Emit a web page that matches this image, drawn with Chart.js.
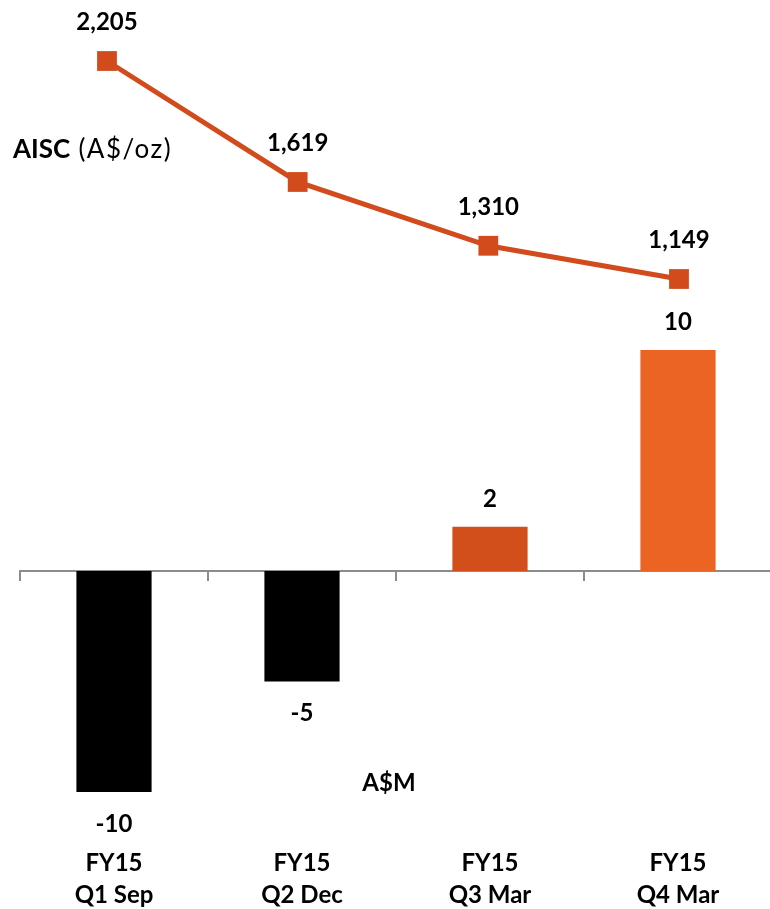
<!DOCTYPE html>
<html>
<head>
<meta charset="utf-8">
<script src="https://cdn.jsdelivr.net/npm/chart.js@4/dist/chart.umd.min.js"></script>
<style>
html,body{margin:0;padding:0;background:#fff;overflow:hidden;width:770px;height:909px;}
#wrap{position:relative;width:772px;height:909px;}
</style>
</head>
<body>
<div id="wrap"><canvas id="c" width="772" height="909"></canvas></div>
<script>
// ---- data ----
const periods = ['FY15', 'FY15', 'FY15', 'FY15'];
const quarters = ['Q1 Sep', 'Q2 Dec', 'Q3 Mar', 'Q4 Mar'];
const profit = [-10, -5, 2, 10];          // A$M
const aisc = [2205, 1619, 1310, 1149];    // A$/oz
const barColors = ['#000000', '#000000', '#D24F1C', '#EB6423'];
const lineColor = '#D14B1C';

const labels = periods.map((p, i) => [p, quarters[i]]);
const FONT = 'Lato, "Open Sans", sans-serif';

const labelPlugin = {
  id: 'valueLabels',
  afterDatasetsDraw(chart) {
    const ctx = chart.ctx;
    ctx.save();
    ctx.fillStyle = '#000';
    ctx.textAlign = 'center';
    ctx.textBaseline = 'alphabetic';
    ctx.font = 'bold 24px ' + FONT;
    // bars
    const bm = chart.getDatasetMeta(0);
    bm.data.forEach((el, i) => {
      const v = profit[i];
      const y = v >= 0 ? el.y - 20 : el.y + 40;
      ctx.fillText(String(v), el.x, y);
    });
    // line
    const lm = chart.getDatasetMeta(1);
    lm.data.forEach((el, i) => {
      ctx.fillText(aisc[i].toLocaleString('en-US'), el.x, el.y - 31);
    });
    // series captions
    ctx.textAlign = 'left';
    ctx.font = 'bold 26px ' + FONT;
    const t1 = 'AISC';
    ctx.fillText(t1, 13, 158);
    const w1 = ctx.measureText(t1).width;
    ctx.font = '26px ' + FONT;
    ctx.letterSpacing = '1.5px';
    ctx.fillText(' (A$/oz)', 13 + w1, 158);
    ctx.letterSpacing = '0px';
    ctx.textAlign = 'center';
    ctx.font = 'bold 24px ' + FONT;
    ctx.fillText('A$M', chart.scales.x.getPixelForValue(1.5) - 7, 791);
    ctx.restore();
  }
};

new Chart(document.getElementById('c'), {
  type: 'bar',
  data: {
    labels: labels,
    datasets: [
      {
        type: 'bar',
        data: profit,
        backgroundColor: barColors,
        borderWidth: 0,
        grouped: false,
        categoryPercentage: 1,
        barPercentage: 0.4,
        xAxisID: 'x',
        yAxisID: 'y',
        order: 2
      },
      {
        type: 'line',
        data: aisc.map((v, i) => ({ x: i, y: v })),
        borderColor: lineColor,
        backgroundColor: lineColor,
        borderWidth: 5,
        pointStyle: 'rect',
        pointRadius: 14,
        pointBorderWidth: 0,
        pointBackgroundColor: lineColor,
        fill: false,
        tension: 0,
        xAxisID: 'xl',
        yAxisID: 'y2',
        order: 1
      }
    ]
  },
  options: {
    responsive: false,
    animation: false,
    layout: { autoPadding: false, padding: { left: 20, right: 0, top: 0, bottom: 0 } },
    plugins: { legend: { display: false }, tooltip: { enabled: false } },
    scales: {
      x: {
        type: 'category',
        position: 'bottom',
        offset: true,
        grid: { display: false, drawTicks: false },
        border: { display: false },
        ticks: {
          color: '#000',
          font: { family: FONT, size: 24, weight: 'bold', lineHeight: 1.3 },
          padding: 8,
          maxRotation: 0,
          autoSkip: false
        },
        afterFit(scale) { scale.height = 69; scale.paddingLeft = 0; scale.paddingRight = 0; }
      },
      x0: {
        type: 'category',
        position: { y: 0 },
        offset: true,
        grid: {
          offset: true,
          drawOnChartArea: false,
          drawTicks: true,
          tickLength: 9,
          color: '#8C8C8C',
          lineWidth: 2
        },
        border: { display: true, color: '#8C8C8C', width: 2 },
        ticks: { display: false },
        afterFit(scale) { scale.paddingLeft = 0; scale.paddingRight = 0; }
      },
      xl: {
        type: 'linear',
        display: false,
        offset: false,
        grid: { offset: false },
        min: -0.4563,
        max: 3.4878
      },
      y: {
        type: 'linear',
        display: false,
        min: -12.172,
        max: 25.837
      },
      y2: {
        type: 'linear',
        display: false,
        min: -1568.5,
        max: 2500.5
      }
    }
  },
  plugins: [labelPlugin]
});
</script>
</body>
</html>
